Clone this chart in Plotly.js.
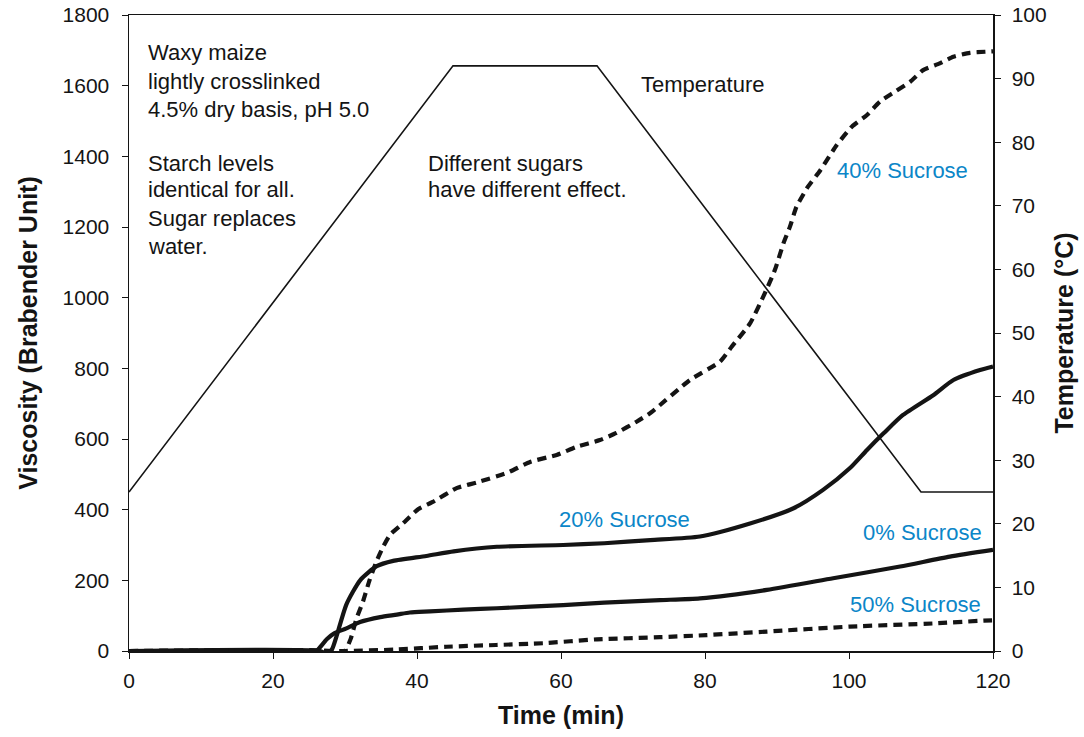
<!DOCTYPE html>
<html>
<head>
<meta charset="utf-8">
<script src="https://cdn.plot.ly/plotly-3.0.1.min.js"></script>
<style>html,body{margin:0;padding:0;background:#fff;}#chart{width:1084px;height:737px;}</style>
</head>
<body>
<div id="chart"></div>
<script>
// Temperature program (°C)
const tempTime = [0, 45, 65, 110, 120];
const tempVal  = [25, 92, 92, 25, 25];

// 0% Sucrose (solid, lower)
const s0Time = [0, 26, 26.5, 27.5, 28.5, 30.2, 32.1, 34.9, 37.2, 39, 41.8, 46.4, 51.1, 60.3, 66, 73.75, 79.3, 88.6, 97.8, 107.1, 114, 120];
const s0Val  = [0, 0, 10, 34, 50, 64, 82, 96, 103, 109, 112, 117, 121, 130, 137, 144, 149, 173, 206, 239, 267, 286];

// 20% Sucrose (solid, upper)
const s20Time = [0, 26.5, 27.5, 28.2, 28.8, 30.2, 32.1, 34.4, 36.7, 41.3, 45.1, 51.1, 60.3, 66, 72.4, 79.3, 86.25, 92.3, 96.4, 100.1, 102.5, 104.8, 107.5, 111.7, 114.5, 118.2, 120];
const s20Val  = [0, 0, -8, 5, 40, 132, 200, 240, 255, 269, 282, 295, 300, 305, 314, 324, 361, 404, 456, 517, 569, 616, 668, 724, 767, 795, 805];

// 40% Sucrose (dashed, upper)
const s40Time = [0, 28, 29, 30, 30.8, 31.6, 32.5, 33.4, 34.3, 35.3, 36.3, 38.1, 40.2, 42.2, 45.5, 48.3, 52.5, 55.7, 59.4, 62.2, 65.4, 67.7, 70.5, 72.5, 77.9, 82.1, 83.7, 86.25, 88.3, 89.7, 90.9, 91.8, 92.7, 94.3, 96, 98.3, 100.4, 102.5, 104.3, 106.4, 108.5, 110.3, 112.6, 114.5, 116.8, 118.9, 120];
const s40Val  = [0, 0, -8, 0, 35, 92, 140, 200, 250, 295, 330, 362, 402, 422, 461, 477, 504, 535, 555, 578, 597, 617, 649, 675, 767, 819, 861, 927, 1012, 1078, 1154, 1201, 1257, 1314, 1360, 1432, 1484, 1517, 1555, 1583, 1611, 1644, 1663, 1682, 1693, 1696, 1697];

// 50% Sucrose (dashed, lower)
const s50Time = [0, 30, 37, 44.1, 51, 57.5, 65, 73.75, 80.2, 88.6, 100.1, 111.7, 118.7, 120];
const s50Val  = [0, 0, 4, 12, 17, 22, 33, 39, 45, 55, 69, 78, 86, 87];

// Tick values
const xTicks = [0, 20, 40, 60, 80, 100, 120];
const yTicks = [0, 200, 400, 600, 800, 1000, 1200, 1400, 1600, 1800];
const y2Ticks = [0, 10, 20, 30, 40, 50, 60, 70, 80, 90, 100];

// Text notes: [text, x, y]
const notes = [
  ["Waxy maize", 2.3, 1695],
  ["lightly crosslinked", 2.3, 1612],
  ["4.5% dry basis, pH 5.0", 2.3, 1533],
  ["Starch levels", 2.3, 1381],
  ["identical for all.", 2.3, 1305],
  ["Sugar replaces", 2.3, 1225],
  ["water.", 2.3, 1146],
  ["Different sugars", 41.3, 1381],
  ["have different effect.", 41.3, 1305],
  ["Temperature", 70.8, 1602]
];
const seriesLabels = [
  ["40% Sucrose", 98.0, 1361],
  ["20% Sucrose", 59.4, 371],
  ["0% Sucrose", 101.6, 334],
  ["50% Sucrose", 99.9, 133]
];

const FONT = "Arial, 'Liberation Sans', sans-serif";
const INK = "#141414";
const BLUE = "#0b86c8";

const traces = [
  {x: tempTime, y: tempVal, yaxis: 'y2', mode: 'lines', line: {color: INK, width: 1.6}, name: 'Temperature'},
  {x: s0Time, y: s0Val, mode: 'lines', line: {color: INK, width: 4.2, shape: 'spline', smoothing: 0.6}, name: '0%'},
  {x: s20Time, y: s20Val, mode: 'lines', line: {color: INK, width: 4.2, shape: 'spline', smoothing: 0.6}, name: '20%'},
  {x: s40Time, y: s40Val, mode: 'lines', line: {color: INK, width: 4.2, dash: '9px,6px', shape: 'spline', smoothing: 0.5}, name: '40%'},
  {x: s50Time, y: s50Val, mode: 'lines', line: {color: INK, width: 4.2, dash: '9px,6px', shape: 'spline', smoothing: 0.5}, name: '50%'}
];

const annotations = notes.map(n => ({
  text: n[0], x: n[1], y: n[2], xref: 'x', yref: 'y', xanchor: 'left', yanchor: 'middle',
  showarrow: false, font: {family: FONT, size: 22, color: INK}
})).concat(seriesLabels.map(n => ({
  text: n[0], x: n[1], y: n[2], xref: 'x', yref: 'y', xanchor: 'left', yanchor: 'middle',
  showarrow: false, font: {family: FONT, size: 22, color: BLUE}
})));

const layout = {
  width: 1084, height: 737,
  margin: {l: 129, r: 91, t: 15, b: 86, pad: 0},
  paper_bgcolor: '#fff', plot_bgcolor: '#fff',
  showlegend: false,
  font: {family: FONT, size: 21, color: INK},
  xaxis: {
    range: [0, 120], tickvals: xTicks, ticktext: xTicks.map(String),
    showgrid: false, zeroline: false, showline: true, linecolor: INK, linewidth: 1.5,
    mirror: true, ticks: 'outside', ticklen: 6, tickcolor: INK, ticklabelstandoff: 4,
    tickfont: {family: FONT, size: 21, color: INK},
    title: {text: '<b>Time (min)</b>', font: {family: FONT, size: 25, color: INK}, standoff: 16}
  },
  yaxis: {
    range: [0, 1800], tickvals: yTicks, ticktext: yTicks.map(String),
    showgrid: false, zeroline: false, showline: true, linecolor: INK, linewidth: 1.5,
    ticks: 'outside', ticklen: 6, tickcolor: INK, ticklabelstandoff: 8,
    tickfont: {family: FONT, size: 21, color: INK},
    title: {text: '<b>Viscosity (Brabender Unit)</b>', font: {family: FONT, size: 25, color: INK}, standoff: 18}
  },
  yaxis2: {
    range: [0, 100], tickvals: y2Ticks, ticktext: y2Ticks.map(String),
    overlaying: 'y', side: 'right',
    showgrid: false, zeroline: false, showline: true, linecolor: INK, linewidth: 1.5,
    ticks: 'outside', ticklen: 6, tickcolor: INK, ticklabelstandoff: 7,
    tickfont: {family: FONT, size: 21, color: INK},
    title: {text: '<b>Temperature (°C)</b>', font: {family: FONT, size: 25, color: INK}, standoff: 10}
  },
  annotations: annotations
};

Plotly.newPlot('chart', traces, layout, {displayModeBar: false, staticPlot: true});
</script>
</body>
</html>
